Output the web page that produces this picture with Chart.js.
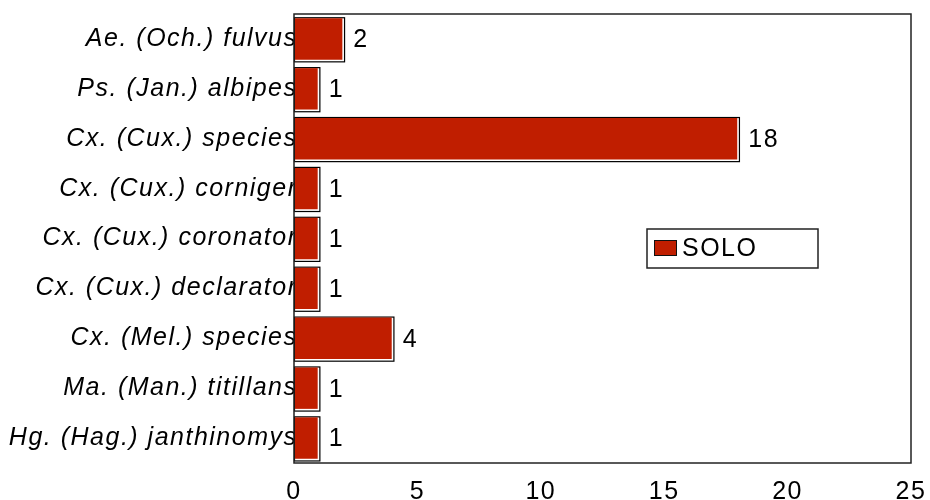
<!DOCTYPE html>
<html>
<head>
<meta charset="utf-8">
<script src="https://cdn.jsdelivr.net/npm/chart.js@4.4.1/dist/chart.umd.min.js"></script>
<style>
  html, body { margin: 0; padding: 0; background: #fff; }
  #wrap { width: 930px; height: 500px; }
</style>
</head>
<body>
<div id="wrap"><canvas id="c" width="930" height="500"></canvas></div>
<script>
// Species names, top row first
const species = [
  'Ae. (Och.) fulvus',
  'Ps. (Jan.) albipes',
  'Cx. (Cux.) species',
  'Cx. (Cux.) corniger',
  'Cx. (Cux.) coronator',
  'Cx. (Cux.) declarator',
  'Cx. (Mel.) species',
  'Ma. (Man.) titillans',
  'Hg. (Hag.) janthinomys'
];
// Specimen counts for the SOLO site
const soloCounts = [2, 1, 18, 1, 1, 1, 4, 1, 1];
const seriesName = 'SOLO';
const xTicks = [0, 5, 10, 15, 20, 25];

const BAR_RED = '#c01e00';
const FRAME = '#222222';
const FONT = 'Liberation Sans, Arial, sans-serif';
const FONT_SIZE = 25;
const SPACING = '1.5px';

// Slightly tracked-out text everywhere on the canvas
const textSpacing = {
  id: 'textSpacing',
  beforeUpdate(chart) { chart.ctx.letterSpacing = SPACING; },
  beforeDraw(chart) { chart.ctx.letterSpacing = SPACING; }
};

// Outline "shadow" behind each bar, drawn before the red fill
const barShadow = {
  id: 'barShadow',
  beforeDatasetsDraw(chart) {
    const ctx = chart.ctx;
    chart.getDatasetMeta(0).data.forEach(bar => {
      const top = bar.y - bar.height / 2;
      const left = Math.min(bar.base, bar.x);
      const w = Math.abs(bar.x - bar.base);
      ctx.save();
      ctx.fillStyle = '#ffffff';
      ctx.fillRect(left, top, w + 1, bar.height + 1);
      ctx.strokeStyle = '#000000';
      ctx.lineWidth = 1.2;
      ctx.strokeRect(left + 0.5, top + 0.5, w + 0.7, bar.height + 0.7);
      ctx.restore();
    });
  }
};

// Value labels, plot frame and legend box
const decorations = {
  id: 'decorations',
  afterDatasetsDraw(chart) {
    const ctx = chart.ctx;
    const area = chart.chartArea;
    const ds = chart.data.datasets[0];
    ctx.save();
    ctx.letterSpacing = SPACING;
    ctx.fillStyle = '#000';
    ctx.font = FONT_SIZE + 'px ' + FONT;
    ctx.textAlign = 'left';
    ctx.textBaseline = 'middle';
    chart.getDatasetMeta(0).data.forEach((bar, i) => {
      ctx.fillText(String(ds.data[i]), bar.x + 10, bar.y + 1.5);
    });

    // frame around the plot area
    ctx.strokeStyle = FRAME;
    ctx.lineWidth = 1.5;
    ctx.strokeRect(area.left, area.top, area.right - area.left, area.bottom - area.top);

    // legend
    const lx = area.left + 353, ly = area.top + 215, lw = 171, lh = 39;
    ctx.fillStyle = '#fff';
    ctx.fillRect(lx, ly, lw, lh);
    ctx.strokeStyle = FRAME;
    ctx.lineWidth = 1.5;
    ctx.strokeRect(lx, ly, lw, lh);
    ctx.fillStyle = ds.backgroundColor;
    ctx.fillRect(lx + 7, ly + 11, 23, 16);
    ctx.strokeStyle = '#111';
    ctx.lineWidth = 1;
    ctx.strokeRect(lx + 7.5, ly + 11.5, 22, 15);
    ctx.fillStyle = '#000';
    ctx.font = FONT_SIZE + 'px ' + FONT;
    ctx.fillText(ds.label, lx + 35, ly + lh / 2 + 1);
    ctx.restore();
  }
};

new Chart(document.getElementById('c'), {
  type: 'bar',
  data: {
    labels: species,
    datasets: [{
      label: seriesName,
      data: soloCounts,
      backgroundColor: BAR_RED,
      borderWidth: 0,
      inflateAmount: -1,
      barPercentage: 0.87,
      categoryPercentage: 1.0
    }]
  },
  options: {
    indexAxis: 'y',
    responsive: false,
    animation: false,
    devicePixelRatio: 1,
    layout: { padding: { top: 14, right: 19, left: 0, bottom: 0 } },
    plugins: {
      legend: { display: false },
      tooltip: { enabled: false }
    },
    scales: {
      x: {
        type: 'linear',
        min: 0,
        max: 25,
        afterBuildTicks(scale) { scale.ticks = xTicks.map(v => ({ value: v })); },
        afterFit(scale) {
          scale.height = 37;
          scale.paddingLeft = 0;
          scale.paddingRight = 0;
        },
        grid: { display: false, drawTicks: false },
        border: { display: false },
        ticks: {
          color: '#000',
          padding: 14,
          maxRotation: 0,
          font: { family: FONT, size: FONT_SIZE }
        }
      },
      y: {
        afterFit(scale) {
          scale.width = 294;
          scale.paddingTop = 0;
          scale.paddingBottom = 0;
        },
        grid: { display: false, drawTicks: false },
        border: { display: false },
        ticks: {
          color: '#000',
          padding: -3.5,
          font: { family: FONT, size: FONT_SIZE, style: 'italic' }
        }
      }
    }
  },
  plugins: [textSpacing, barShadow, decorations]
});
</script>
</body>
</html>
